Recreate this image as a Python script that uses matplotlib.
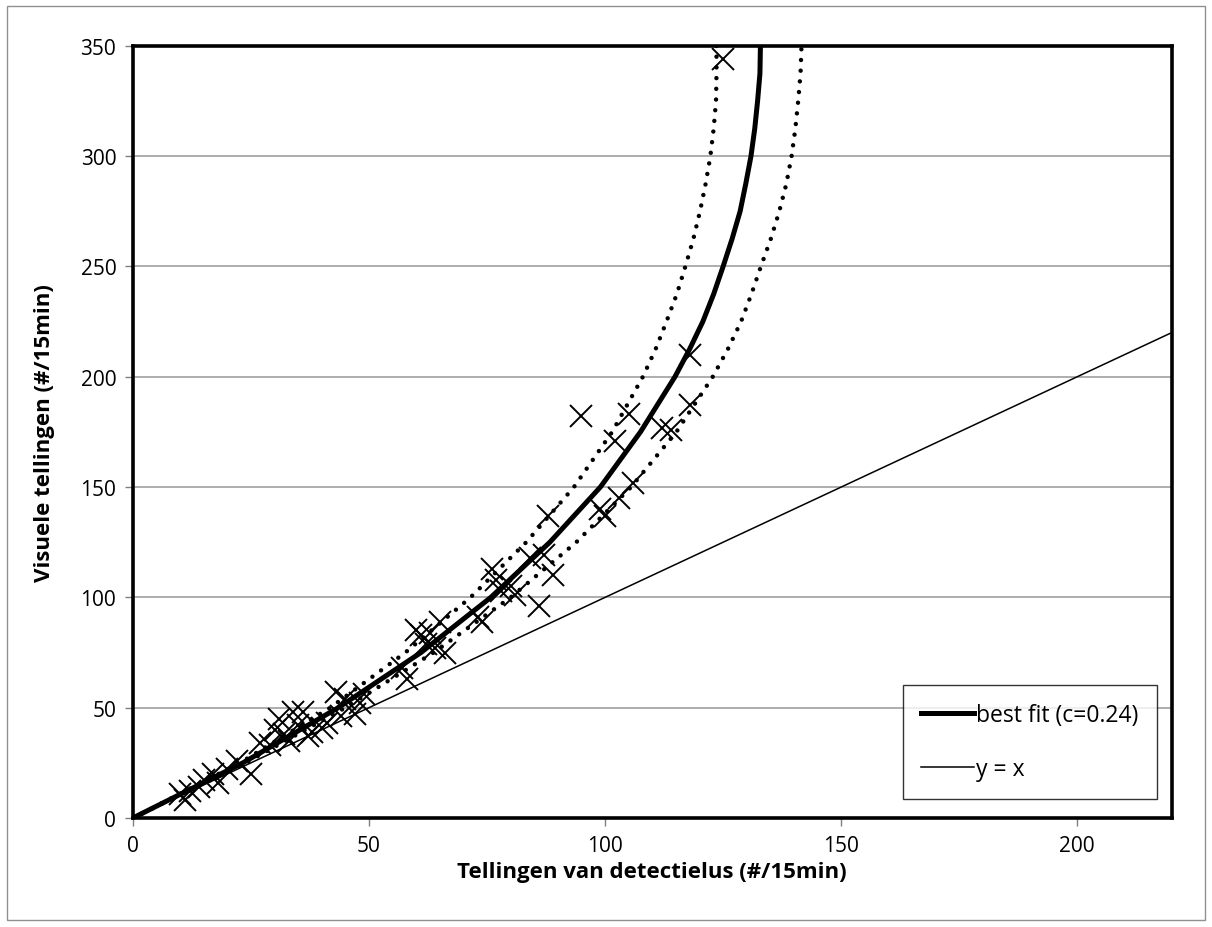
import numpy as np
import matplotlib
matplotlib.use('Agg')
import matplotlib.pyplot as plt
from matplotlib.patches import Rectangle

plt.rcParams['font.family'] = ['Open Sans', 'DejaVu Sans']

# measured points: detector counts vs visual counts (#/15min)
det = [10, 11, 12, 14, 15, 17, 18, 20, 22, 25, 27, 29, 30, 31, 32, 33, 34, 35, 36, 37,
       38, 40, 41, 43, 44, 45, 47, 48, 49, 57, 58, 60, 61, 62, 63, 64, 65, 66, 73, 74,
       76, 77, 78, 80, 81, 84, 86, 87, 88, 89, 95, 99, 100, 102, 103, 105, 106, 112, 114,
       118, 118, 125]
vis = [11, 8, 12, 14, 17, 20, 16, 22, 26, 20, 34, 33, 40, 45, 38, 35, 48, 42, 48, 37,
       39, 41, 43, 57, 46, 54, 47, 52, 56, 68, 63, 85, 83, 79, 84, 77, 89, 75, 91, 89,
       113, 108, 103, 105, 101, 118, 96, 119, 137, 110, 182, 140, 137, 171, 145, 183, 152,
       177, 176, 210, 187, 344]

# fitted curves (x at given y)
curve_y = [0, 25, 50, 75, 100, 125, 150, 175, 200, 212.5, 225, 237.5, 250, 262.5, 275,
           287.5, 300, 312.5, 325, 337.5, 350]
fit_x = [0, 23.3, 43.5, 61.0, 75.8, 88.3, 99.0, 107.5, 114.8, 117.9, 120.7, 123.0, 125.0,
         126.9, 128.6, 129.8, 130.9, 131.7, 132.3, 132.8, 132.9]
low_x = [0, 22.7, 41.8, 57.7, 71.5, 83.3, 93.4, 101.5, 108.0, 110.7, 113.0, 115.2, 117.0,
         118.7, 120.1, 121.3, 122.3, 123.0, 123.5, 123.6, 123.6]
high_x = [0, 23.9, 45.0, 63.7, 80.0, 93.9, 105.5, 115.1, 122.8, 126.0, 128.8, 131.0, 133.0,
          135.1, 136.9, 138.4, 139.5, 140.3, 140.9, 141.4, 141.6]

diag = [0, 220]

fig = plt.figure(figsize=(12.12, 9.28), dpi=100)
ax = fig.add_axes([0.1097, 0.1175, 0.857, 0.832])

ax.set_xlim(0, 220)
ax.set_ylim(0, 350)
ax.set_yticks(np.arange(0, 351, 50))
ax.set_xticks(np.arange(0, 201, 50))
ax.yaxis.grid(True, color='#a0a0a0', linewidth=1.2)
ax.set_axisbelow(True)

ax.plot(det, vis, linestyle='none', marker='x', markersize=16, markeredgewidth=1.4,
        color='black', zorder=3)
ax.plot(fit_x, curve_y, color='black', linewidth=3.6, label='best fit (c=0.24)', zorder=4,
        solid_joinstyle='round')
ax.plot(low_x, curve_y, color='black', linewidth=3.2, linestyle=(0, (0.01, 2.4)),
        dash_capstyle='round', zorder=4)
ax.plot(high_x, curve_y, color='black', linewidth=3.2, linestyle=(0, (0.01, 2.4)),
        dash_capstyle='round', zorder=4)
ax.plot(diag, diag, color='black', linewidth=1.1, label='y = x', zorder=4)

for s in ax.spines.values():
    s.set_linewidth(2.6)
    s.set_color('black')

ax.tick_params(direction='out', length=6, width=1, color='#808080', labelsize=15, pad=6)
ax.set_xlabel('Tellingen van detectielus (#/15min)', fontsize=16, fontweight='bold', labelpad=4)
ax.set_ylabel('Visuele tellingen (#/15min)', fontsize=16, fontweight='bold', labelpad=18)

leg = ax.legend(loc='lower right', bbox_to_anchor=(0.986, 0.024), fontsize=16.5,
                frameon=True, fancybox=False, edgecolor='black', handlelength=2.3,
                handletextpad=0.1, labelspacing=1.3, borderpad=0.8, borderaxespad=0)
leg.get_frame().set_linewidth(1.0)

fig.patches.append(Rectangle((0.006, 0.008), 0.988, 0.984, transform=fig.transFigure,
                             fill=False, edgecolor='#909090', linewidth=1.0))

fig.savefig('out.png', dpi=100)
